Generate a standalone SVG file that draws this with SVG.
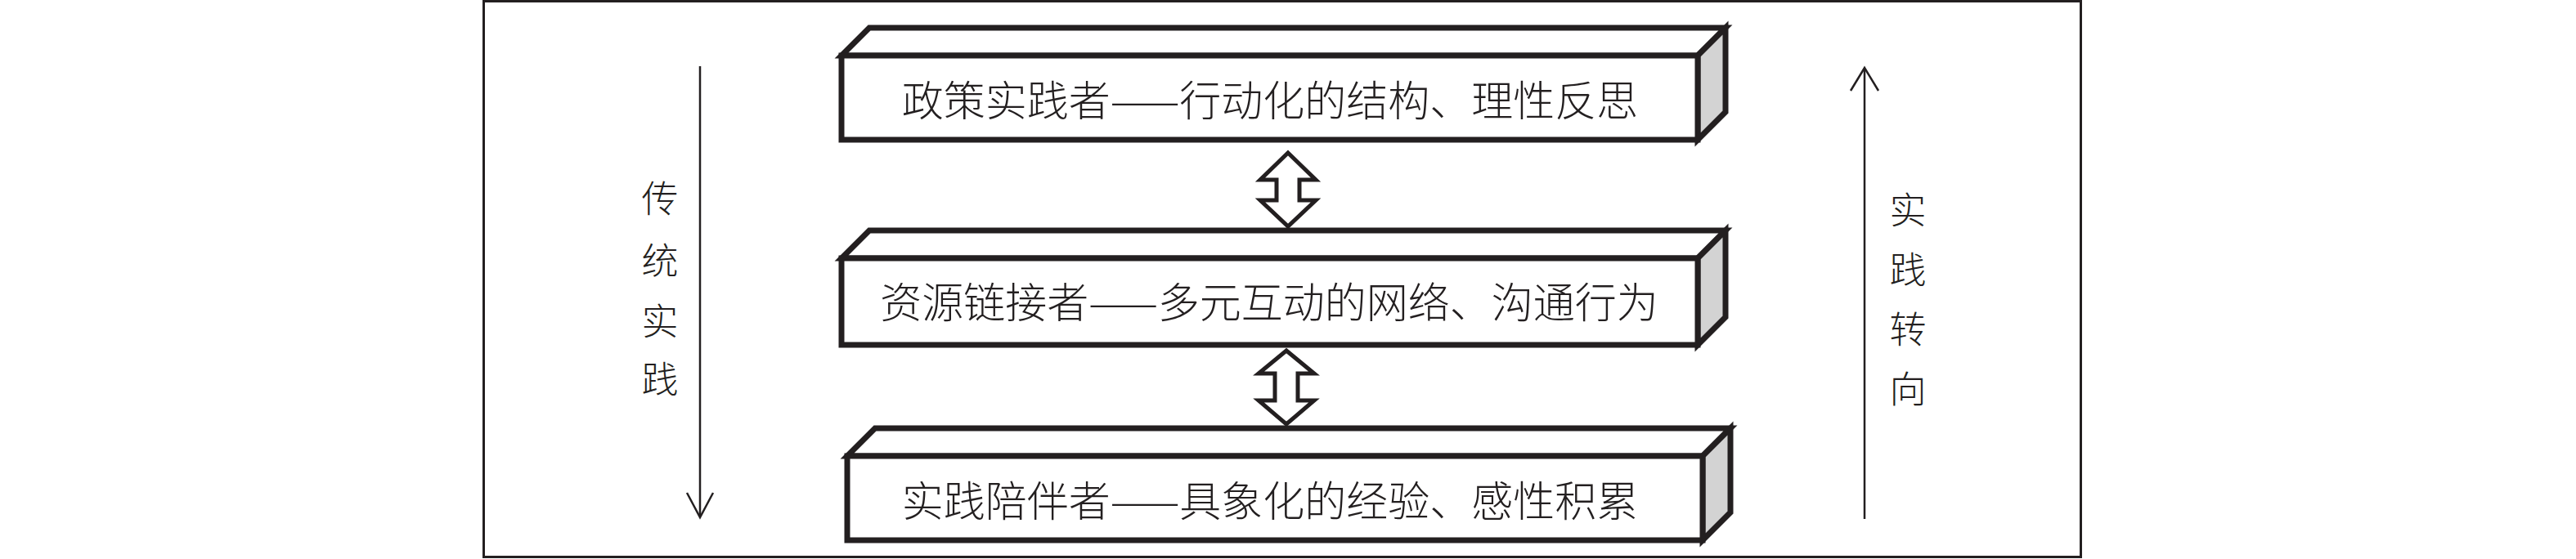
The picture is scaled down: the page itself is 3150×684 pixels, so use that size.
<svg xmlns="http://www.w3.org/2000/svg" width="3150" height="684" viewBox="0 0 3150 684">
<style>
.face{fill:#ffffff;stroke:#231f20;stroke-width:7;stroke-linejoin:miter}
.side{fill:#d3d3d3;stroke:#231f20;stroke-width:7;stroke-linejoin:miter}
.lbl{font-family:"Noto Sans CJK SC","Noto Sans",sans-serif;font-size:51px;font-weight:300;fill:#231f20;text-anchor:middle;dominant-baseline:central}
.vt{font-family:"Noto Sans CJK SC","Noto Sans",sans-serif;font-size:45px;font-weight:300;fill:#231f20;text-anchor:middle;dominant-baseline:central}
.ln{fill:none;stroke:#231f20;stroke-width:2.5}
.dbl{fill:#ffffff;stroke:#231f20;stroke-width:5;stroke-linejoin:miter}
</style>
<rect x="0" y="0" width="3150" height="684" fill="#ffffff"/>
<rect id="frame" x="591.5" y="1.5" width="1953" height="680" fill="none" stroke="#231f20" stroke-width="3"/>

<g id="node-policy">
<polygon class="face" points="1029,68 1063,34 2110,34 2076,68"/>
<polygon class="side" points="2076,68 2110,34 2110,137 2076,171"/>
<rect class="face" x="1029" y="68" width="1047" height="103"/>
<text class="lbl" x="1553" y="120">政策实践者——行动化的结构、理性反思</text>
</g>

<g id="node-resource">
<polygon class="face" points="1029,316 1063,282 2110,282 2076,316"/>
<polygon class="side" points="2076,316 2110,282 2110,388 2076,422"/>
<rect class="face" x="1029" y="316" width="1047" height="106"/>
<text class="lbl" x="1552" y="367">资源链接者——多元互动的网络、沟通行为</text>
</g>

<g id="node-companion">
<polygon class="face" points="1036,558 1070,524 2116,524 2082,558"/>
<polygon class="side" points="2082,558 2116,524 2116,627 2082,661"/>
<rect class="face" x="1036" y="558" width="1046" height="103"/>
<text class="lbl" x="1553" y="610">实践陪伴者——具象化的经验、感性积累</text>
</g>

<g id="label-traditional">
<text class="vt" x="807" y="240">传</text>
<text class="vt" x="807" y="316">统</text>
<text class="vt" x="807" y="390">实</text>
<text class="vt" x="807" y="461">践</text>
</g>

<g id="label-turn">
<text class="vt" x="2333" y="254">实</text>
<text class="vt" x="2333" y="327">践</text>
<text class="vt" x="2333" y="400">转</text>
<text class="vt" x="2333" y="473">向</text>
</g>

<g id="connectors">
<polygon class="dbl" points="1575,187 1609,220 1589,220 1589,245 1609,245 1575,277 1541,245 1561,245 1561,220 1541,220"/>
<polygon class="dbl" points="1573,429 1607,457 1587,457 1587,490 1607,490 1573,519 1539,490 1559,490 1559,457 1539,457"/>
<line class="ln" x1="856" y1="81" x2="856" y2="632"/>
<polyline class="ln" points="840,603 856,633 872,603"/>
<line class="ln" x1="2280" y1="635" x2="2280" y2="84"/>
<polyline class="ln" points="2263,111 2280,83 2297,111"/>
</g>
</svg>
